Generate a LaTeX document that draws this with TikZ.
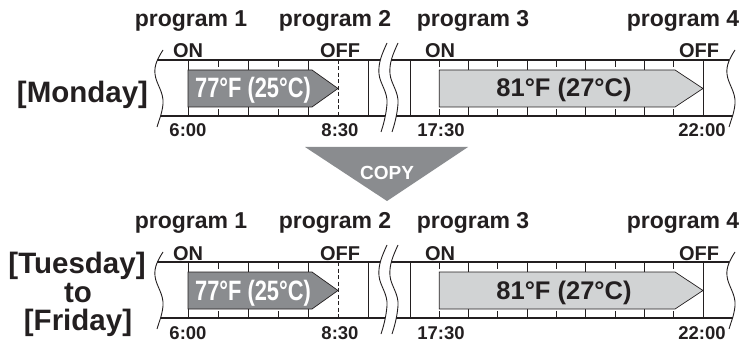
\documentclass[tikz,border=0pt]{standalone}
\usepackage{fontspec}
\setmainfont{Liberation Sans}
\newfontfamily\schmalfont[FakeStretch=0.78]{Liberation Sans}
\usetikzlibrary{positioning}
\definecolor{tinta}{HTML}{231F20}
\definecolor{tamnosiva}{HTML}{8A8C8F}
\definecolor{svetlosiva}{HTML}{D1D3D4}

\begin{document}
\begin{tikzpicture}[x=1pt, y=-1pt,
  rail/.style={draw=tinta, line width=1.2pt},
  hourline/.style={draw=tinta, line width=0.9pt},
  dashline/.style={draw=tinta, line width=0.9pt, dash pattern=on 4pt off 2.5pt},
  tempbar/.style={draw=tinta, line width=0.7pt},
  lbl/.style={anchor=base, inner sep=0pt, text=tinta},
  prog/.style={lbl, font=\bfseries\fontsize{23}{23}\selectfont},
  onoff/.style={lbl, font=\bfseries\fontsize{20}{20}\selectfont},
  clock/.style={lbl, font=\bfseries\fontsize{18.5}{18.5}\selectfont},
  day/.style={lbl, font=\bfseries\fontsize{29.5}{29.5}\selectfont},
  endwave/.pic={\draw[hourline] (4,-10) .. controls (-1,-2) and (-5,5) .. (-4,14)
     .. controls (-3,24) and (5,32) .. (4,44) .. controls (3,54) and (0,60) .. (-2,67);},
  breakwave/.pic={\draw[hourline] (4,-17) .. controls (-1,-6) and (-5,3) .. (-4,14)
     .. controls (-3,24) and (5,32) .. (4,44) .. controls (3,56) and (0,66) .. (-2,72);}
]
\useasboundingbox (0,0) rectangle (742,342);

% the two time bars
\foreach \r/\dy in {1/0, 2/202}{
\begin{scope}[shift={(0,\dy)}]
  \draw[rail] (157.4,60) -- (380.3,60) (391.3,60) -- (729.4,60);
  \draw[rail] (160.6,116) -- (385.3,116) (396.3,116) -- (732.6,116);
  \pic at (159,60) {endwave};
  \pic at (383,60) {breakwave};
  \pic at (394,60) {breakwave};
  \pic at (731,60) {endwave};

  % 6:00 ... 9:00
  \foreach \t in {0,1,2,3} \draw[hourline] (188+60*\t,60) -- ++(0,56);
  \foreach \t in {0,1} \draw[hourline] (218+60*\t,60) -- ++(0,7) (218+60*\t,116) -- ++(0,-7);
  \draw[dashline] (338,60) -- (338,116);
  % 17:00 ... 22:00
  \foreach \t in {0,...,5} \draw[hourline] (410+58.6*\t,60) -- ++(0,56);
  \foreach \t in {0,...,4} \draw[hourline] (439.3+58.6*\t,60) -- ++(0,7) (439.3+58.6*\t,116) -- ++(0,-7);

  \draw[tempbar, fill=tamnosiva] (188,70) -- (312,70) -- (338,88.5) -- (312,107) -- (188,107) -- cycle;
  \draw[tempbar, fill=svetlosiva] (439.3,70) -- (675,70) -- (703,88.5) -- (675,107) -- (439.3,107) -- cycle;
  \node[lbl, text=white, font=\schmalfont\bfseries\fontsize{28}{28}\selectfont] (temp1-\r) at (253,98) {77°F (25°C)};
  \node[lbl, font=\bfseries\fontsize{25.5}{25.5}\selectfont] (temp2-\r) at (564,97) {81°F (27°C)};

  \node[prog] (prog1-\r) at (191,27) {program 1};
  \node[prog] (prog2-\r) at (335,27) {program 2};
  \node[prog] (prog3-\r) at (473,27) {program 3};
  \node[prog] (prog4-\r) at (683,27) {program 4};
  \node[onoff] (on1-\r) at (188,58) {ON};
  \node[onoff] (off1-\r) at (340,58) {OFF};
  \node[onoff] (on2-\r) at (440,58) {ON};
  \node[onoff] (off2-\r) at (699,58) {OFF};
  \node[clock] (start1-\r) at (188,137) {6:00};
  \node[clock] (stop1-\r) at (340,137) {8:30};
  \node[clock] (start2-\r) at (441,137) {17:30};
  \node[clock] (stop2-\r) at (702,137) {22:00};
\end{scope}
}

\node[day] (monday) at (82.5,103) {[Monday]};
\node[day] (tuesday) at (77,273.5) {[Tuesday]};
\node[day] (dayto) at (78,302) {to};
\node[day] (friday) at (78,330.5) {[Friday]};

% copy arrow
\fill[tamnosiva] (305,147) -- (468,147) -- (387,201) -- cycle;
\node[lbl, text=white, font=\bfseries\fontsize{19}{19}\selectfont] (copy) at (387,180) {COPY};
\end{tikzpicture}
\end{document}
